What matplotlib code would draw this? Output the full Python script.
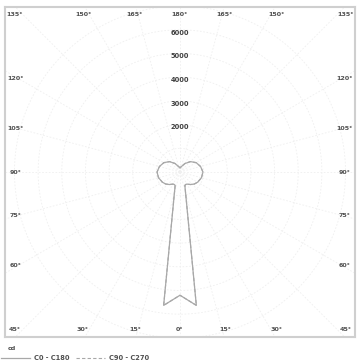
import numpy as np
import matplotlib
matplotlib.use("Agg")
import matplotlib.pyplot as plt

# Luminous intensity distribution (cd), angle measured from nadir (deg)
angles = [0, 7, 20, 25, 30, 40, 50, 60, 75, 90, 105, 120, 135, 150, 165, 180]
c0_c180 = [5200, 5670, 600, 580, 590, 690, 790, 860, 940, 970, 900, 790, 620, 410, 240, 180]
c90_c270 = [5200, 5670, 600, 580, 590, 690, 790, 860, 940, 970, 900, 790, 620, 410, 240, 180]

ring_values = [1000, 2000, 3000, 4000, 5000, 6000, 7000]
ring_labels = ["", "2000", "3000", "4000", "5000", "6000", ""]
top_angles = [-45, -30, -15, 0, 15, 30, 45]          # offsets from 180
side_angles = [120, 105, 90, 75, 60]
unit_label = "cd"
legend_names = ["C0 - C180", "C90 - C270"]

XL, YL = 7400, 6962
line_col = "#a8a8a8"
txt_col = "#505050"

fig = plt.figure(figsize=(3.6, 3.63), dpi=100)
ax = fig.add_axes([5/360, (363-337)/363, 350/360, 330/363])
ax.set_xlim(-XL, XL)
ax.set_ylim(-YL, YL)
ax.set_xticks([]); ax.set_yticks([])
for s in ax.spines.values():
    s.set_color("#cfcfcf"); s.set_linewidth(1.5)

# grid circles and rays
t = np.linspace(0, 2*np.pi, 400)
for rv in ring_values:
    ax.plot(rv*np.sin(t), rv*np.cos(t), color="#efefef", lw=0.6, ls=(0, (2, 2)), zorder=1)
for a in range(0, 360, 15):
    ar = np.radians(a)
    ax.plot([0, 12000*np.sin(ar)], [0, -12000*np.cos(ar)], color="#efefef", lw=0.6,
            ls=(0, (2, 2)), zorder=1)

def polar_xy(ang, vals, side):
    a = np.radians(np.asarray(ang, float))
    v = np.asarray(vals, float)
    return side*v*np.sin(a), -v*np.cos(a)

def full_curve(vals):
    xl, yl = polar_xy(angles, vals, -1)
    xr, yr = polar_xy(angles, vals, 1)
    return np.concatenate([xl[::-1], xr[1:]]), np.concatenate([yl[::-1], yr[1:]])

x1, y1 = full_curve(c0_c180)
x2, y2 = full_curve(c90_c270)
l1, = ax.plot(x1, y1, color=line_col, lw=0.9, zorder=3)
l2, = ax.plot(x2, y2, color=line_col, lw=0.8, ls=(0, (3, 2)), zorder=3)

# radial value labels
for rv, lab in zip(ring_values, ring_labels):
    if lab:
        ax.text(0, rv - 120, lab, ha="center", va="center", fontsize=4.8,
                color="#404040", fontweight="bold", zorder=4)

# angle labels along top / bottom
ey = 6640
for off in top_angles:
    x = np.clip(7100*np.tan(np.radians(off)), -7000, 7000)
    ax.text(x, ey, f"{180-abs(off)}°", ha="center", va="center", fontsize=4.6,
            color=txt_col, fontweight="bold")
    ax.text(x, -ey, f"{abs(off)}°", ha="center", va="center", fontsize=4.6,
            color=txt_col, fontweight="bold")
# angle labels along sides
ex = 6950
for a in side_angles:
    y = -ex/np.tan(np.radians(a)) if a != 90 else 0.0
    y = y*0.98
    ax.text(-ex, y, f"{a}°", ha="center", va="center", fontsize=4.6, color=txt_col,
            fontweight="bold")
    ax.text(ex, y, f"{a}°", ha="center", va="center", fontsize=4.6, color=txt_col,
            fontweight="bold")

fig.text(8/360, 1-348/363, unit_label, fontsize=4.6, color=txt_col, va="center", ha="left",
         fontweight="bold")
fig.legend([l1, l2], legend_names, loc="center left", bbox_to_anchor=(0.0, 1-358/363),
           ncol=2, frameon=False, handlelength=4.3, columnspacing=1.0,
           handletextpad=0.6, labelcolor=txt_col, borderaxespad=0.0, borderpad=0.2,
           prop={"size": 4.8, "weight": "bold"})

fig.savefig("out.png", dpi=100, facecolor="white")
